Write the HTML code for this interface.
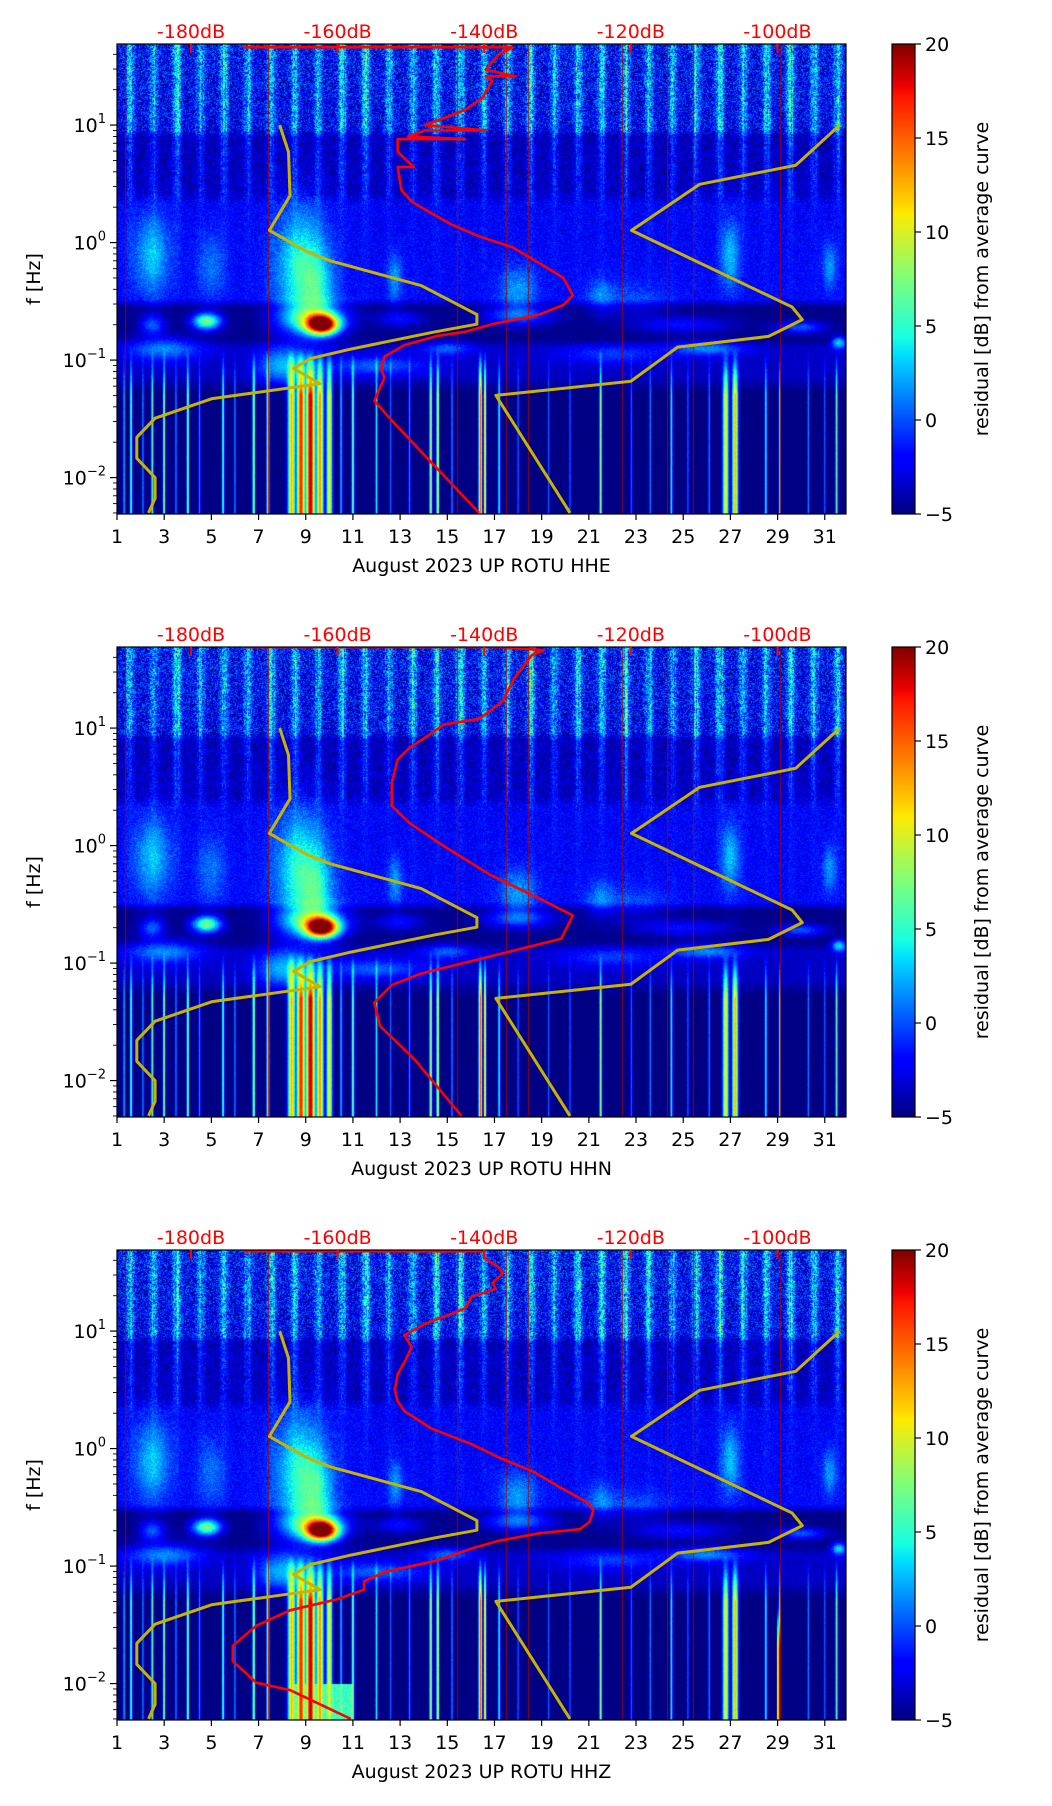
<!DOCTYPE html>
<html><head><meta charset="utf-8">
<style>
html,body{margin:0;padding:0;background:#fff;}
#root{position:relative;width:1052px;height:1806px;overflow:hidden;background:#fff;font-family:"DejaVu Sans","Liberation Sans",sans-serif;}
canvas{position:absolute;}
svg{position:absolute;left:0;top:0;}
</style></head>
<body>
<div id="root">
<svg id="svg" width="1052" height="1806" viewBox="0 0 1052 1806">
<defs>
<linearGradient id="jet" x1="0" y1="1" x2="0" y2="0">
<stop offset="0" stop-color="#000080"/><stop offset="0.11" stop-color="#0000ff"/>
<stop offset="0.125" stop-color="#0000ff"/><stop offset="0.34" stop-color="#00e0ff"/>
<stop offset="0.375" stop-color="#16ffe1"/><stop offset="0.5" stop-color="#7dff7a"/>
<stop offset="0.64" stop-color="#ffea00"/><stop offset="0.66" stop-color="#ffd400"/>
<stop offset="0.89" stop-color="#ff1300"/><stop offset="0.91" stop-color="#ed0000"/>
<stop offset="1" stop-color="#800000"/>
</linearGradient>
</defs>
</svg>
</div>
<script>
// ---------- axis/data arrays ----------
const panelNames = ["HHE","HHN","HHZ"];
const dayTicks = [1,3,5,7,9,11,13,15,17,19,21,23,25,27,29,31];
const dbTicks = [-180,-160,-140,-120,-100];
const dbTickLabels = ["-180dB","-160dB","-140dB","-120dB","-100dB"];
const cbTicks = [-5,0,5,10,15,20];
const freqDecades = [1,0,-1,-2];
const freqDecadeLabels = ["1","0","\u22121","\u22122"];

// yellow model curves (dB, Hz)
const yellowLowDb = [-167.9,-166.7,-166.5,-169.3,-164.2,-161.0,-148.6,-141.0,-141.0,-146.7,-158.2,-163.7,-166.0,-162.4,-177.1,-184.9,-187.4,-187.4,-184.9,-184.9,-185.8];
const yellowLowHz = [10,5.9,2.5,1.27,0.84,0.70,0.43,0.244,0.202,0.174,0.124,0.103,0.085,0.063,0.047,0.032,0.022,0.0146,0.010,0.00665,0.005];
const yellowHighDb = [-91.5,-97.5,-110.6,-119.9,-98.0,-96.6,-101.2,-113.6,-120.0,-138.4,-128.3];
const yellowHighHz = [10,4.55,3.13,1.27,0.283,0.221,0.159,0.129,0.066,0.050,0.005];

// red average curves per component (dB, Hz)
const redDbHHE = [-172.9,-136.1,-138.0,-139.8,-135.7,-139.8,-138.9,-140.3,-142.6,-145.3,-148.1,-139.6,-148.1,-150.4,-142.6,-151.8,-151.8,-149.6,-151.8,-151.3,-149.9,-147.2,-144.4,-140.7,-136.1,-132.5,-129.2,-127.9,-129.2,-132.5,-138.9,-142.6,-146.3,-150.9,-153.6,-154.1,-153.6,-155.0,-152.7,-140.7];
const redHzHHE  = [46,46,40,29.6,26,26,23.7,16.9,13.5,11.6,10,9,9,8.0,7.6,7.6,5.9,4.4,4.39,2.8,2.23,1.78,1.42,1.13,0.91,0.67,0.50,0.355,0.294,0.244,0.202,0.174,0.161,0.134,0.107,0.085,0.071,0.045,0.031,0.005];
const redDbHHN = [-172.6,-137.5,-131.9,-133.5,-135.9,-137.5,-140.7,-145.5,-147.8,-150.2,-151.8,-152.6,-152.6,-150.2,-145.5,-139.1,-132.7,-127.9,-129.5,-135.9,-142.3,-148.7,-152.6,-155.0,-154.2,-149.4,-143.1];
const redHzHHN  = [48.9,48.9,46,41.7,26.5,16.8,12.0,10.7,8.5,6.8,5.4,3.4,2.18,1.56,0.99,0.56,0.36,0.254,0.161,0.128,0.102,0.081,0.065,0.046,0.029,0.0149,0.005];
const redDbHHZ = [-172.9,-140.0,-140.0,-138.0,-137.5,-138.9,-138.4,-141.7,-142.6,-145.3,-148.1,-150.9,-149.9,-150.9,-151.8,-152.2,-151.8,-150.9,-147.2,-141.7,-138.0,-133.4,-129.7,-126.0,-125.1,-125.6,-126.9,-132.5,-138.0,-141.7,-146.3,-153.6,-156.4,-156.4,-160.1,-166.5,-171.1,-174.3,-174.3,-171.1,-166.5,-158.2];
const redHzHHZ  = [47.8,47.8,42,34.7,31,25.6,22.9,19.6,15.6,13.4,11.5,9.2,7.3,5.4,4.3,3.17,2.52,2.09,1.48,1.09,0.84,0.64,0.47,0.35,0.30,0.239,0.206,0.19,0.164,0.141,0.112,0.089,0.074,0.063,0.052,0.042,0.031,0.021,0.0155,0.0102,0.0088,0.005];
const redDb = [redDbHHE, redDbHHN, redDbHHZ];
const redHz = [redHzHHE, redHzHHN, redHzHHZ];

// spectrogram features: daily high-frequency streak amplitude per day (1..31)
const dailyStreakAmp = [6,5,7,5,6,5,7,6,5,6,7,5,6,6,7,5,6,7,5,6,6,7,6,5,6,7,6,6,7,6,6];
// blobs: day centre, day width, log10(f) centre, log10(f) width, amplitude (dB)
const blobDay  = [2.5,5.0,8.8,12.8,18.0,21.5,27.0,31.2,23.0, 4.8,9.7,2.5,13.0,18.0,25.0,30.0, 3.0,8.0,12.0,15.0,22.0,26.0,31.6, 9.3, 9.5];
const blobDayW = [0.8,0.6,1.1,0.3,0.8,0.6,0.4,0.3,1.5, 0.6,0.65,0.5,1.0,1.5,2.0,1.0, 1.5,1.0,2.0,1.0,2.0,1.5,0.3, 1.4, 0.7];
const blobLf   = [-0.1,-0.2,-0.2,-0.3,-0.4,-0.45,-0.1,-0.2,-0.5, -0.67,-0.7,-0.7,-0.65,-0.62,-0.7,-0.72, -0.9,-1.05,-1.05,-0.9,-0.95,-0.9,-0.85, -0.64, -0.4];
const blobLfW  = [0.35,0.3,0.5,0.2,0.2,0.15,0.3,0.2,0.15, 0.07,0.08,0.08,0.07,0.08,0.07,0.05, 0.1,0.15,0.08,0.06,0.08,0.06,0.05, 0.13, 0.3];
const blobAmp  = [5,3,7,4,4,3,5,4,2, 12,24,5,3,5,3,5, 5,6,4,4,3,5,8, 9, 4];
// low-frequency vertical streaks: day, width (days), amplitude
const lowStreakDay = [1.3,1.6,2.1,2.5,3.0,3.5,4.0,4.5,5.5,6.0,6.8,7.4,8.4,8.8,9.2,9.6,10.0,10.5,11.0,12.0,12.6,13.4,14.3,14.6,15.2,16.4,16.6,17.2,18.0,19.3,20.2,21.5,22.8,23.6,24.5,25.2,26.1,26.8,27.2,28.5,29.1,30.3,31.0,31.5];
const lowStreakW   = [0.04,0.05,0.04,0.05,0.05,0.04,0.05,0.04,0.05,0.04,0.06,0.06,0.15,0.18,0.2,0.15,0.12,0.05,0.06,0.05,0.04,0.04,0.06,0.06,0.04,0.07,0.05,0.05,0.04,0.04,0.04,0.05,0.04,0.04,0.05,0.04,0.04,0.12,0.12,0.05,0.04,0.04,0.04,0.05];
const lowStreakAmp = [8,12,7,12,13,7,14,7,12,7,14,16,18,22,24,19,16,8,12,10,6,7,14,16,7,21,19,10,6,6,6,14,6,7,10,6,7,16,18,10,12,7,6,12];
// thin dark-red vertical lines
const redLineDays = [1.33,7.4,15.4,17.5,18.4,22.4,24.3,25.4,29.1];

// ---------- geometry ----------
const PX0=117, PW=729, PH=470, TOPS=[44,647,1250];
const D0=1, D1=31.9, LF0=1.69, LF1=-2.31;
const xDay = d => PX0 + (d-D0)/(D1-D0)*PW;
const yF = (top,f) => top + (LF0-Math.log10(f))/(LF0-LF1)*PH;
const yLf = (top,lf) => top + (LF0-lf)/(LF0-LF1)*PH;
const xDb = db => 191 + (db+180)*7.33;
const CBX=892, CBW=23;
const yCb = (top,v) => top + PH - (v+5)/25*PH;

function jet(t){
  t=Math.max(0,Math.min(1,t));
  const seg=(pts)=>{for(let i=1;i<pts.length;i++){if(t<=pts[i][0]){const a=pts[i-1],b=pts[i];return a[1]+(b[1]-a[1])*(t-a[0])/(b[0]-a[0]);}}return pts[pts.length-1][1];};
  return [seg([[0,0],[0.35,0],[0.66,1],[0.89,1],[1,0.5]]),seg([[0,0],[0.125,0],[0.375,1],[0.64,1],[0.91,0],[1,0]]),seg([[0,0.5],[0.11,1],[0.34,1],[0.65,0],[1,0]])];
}
function hash(i,j){let h=(i*374761393+j*668265263)|0;h=(h^(h>>>13))*1274126177|0;h=h^(h>>>16);return ((h>>>0)%10000)/10000;}
function interp(kn,x){if(x>=kn[0][0])return kn[0][1];for(let i=1;i<kn.length;i++){if(x>=kn[i][0]){const a=kn[i-1],b=kn[i];return b[1]+(a[1]-b[1])*(x-b[0])/(a[0]-b[0]);}}return kn[kn.length-1][1];}
// rendering profiles (log f knots -> level/weights)
const baseKn=[[1.7,-2.0],[0.97,-2.4],[0.9,-3.8],[0.42,-3.6],[0.32,-2.2],[-0.48,-2.0],[-0.55,-4.9],[-0.82,-4.8],[-0.9,-3.4],[-1.15,-3.6],[-1.28,-5],[-2.4,-5]];
const streakKn=[[1.7,1.0],[0.95,0.95],[0.9,0.6],[0.42,0.45],[0.3,0.12],[-0.45,0.05],[-0.55,0],[-2.4,0]];
const noiseKn=[[1.7,3.8],[0.95,3.2],[0.9,2.0],[0.4,1.8],[0.3,1.4],[-0.5,1.2],[-0.55,0.6],[-0.85,0.8],[-1.2,0.6],[-1.3,0.4],[-2.4,0.4]];
const lowKn=[[1.7,0],[-0.9,0],[-1.15,0.6],[-1.3,1],[-2.4,1]];

const root=document.getElementById('root');
const svg=document.getElementById('svg');
const NS="http://www.w3.org/2000/svg";
function el(tag,attrs,parent){const e=document.createElementNS(NS,tag);for(const k in attrs)e.setAttribute(k,attrs[k]);(parent||svg).appendChild(e);return e;}

function drawHeat(p,top){
  const cv=document.createElement('canvas');
  cv.width=PW;cv.height=PH;cv.style.left=PX0+'px';cv.style.top=top+'px';
  
  
  root.insertBefore(cv,svg);
  const ctx=cv.getContext('2d');const img=ctx.createImageData(PW,PH);const dat=img.data;
  const days=new Float32Array(PW), streak=new Float32Array(PW), low=new Float32Array(PW);
  for(let i=0;i<PW;i++){
    const d=D0+(i+0.5)/PW*(D1-D0);days[i]=d;
    let s=0;for(let k=0;k<dailyStreakAmp.length;k++){const c=k+1.55;const z=(d-c)/0.17;s+=dailyStreakAmp[k]*Math.exp(-z*z);}
    streak[i]=s*(0.6+0.7*hash(i,777+p));
    let l=0;for(let k=0;k<lowStreakDay.length;k++){const z=(d-lowStreakDay[k])/lowStreakW[k];l=Math.max(l,lowStreakAmp[k]*Math.exp(-z*z));}
    low[i]=l;
  }
  const nb=blobDay.length;
  const bx=[],by=[];
  for(let b=0;b<nb;b++){
    const ax=new Float32Array(PW),ay=new Float32Array(PH);
    for(let i=0;i<PW;i++){const z=(days[i]-blobDay[b])/blobDayW[b];ax[i]=blobAmp[b]*Math.exp(-z*z);}
    for(let j=0;j<PH;j++){const lf=LF0-(j+0.5)/PH*(LF0-LF1);const z=(lf-blobLf[b])/blobLfW[b];ay[j]=Math.exp(-z*z);}
    bx.push(ax);by.push(ay);
  }
  for(let j=0;j<PH;j++){
    const lf=LF0-(j+0.5)/PH*(LF0-LF1);
    const base=interp(baseKn,lf), sw=interp(streakKn,lf), nz=interp(noiseKn,lf), lw=interp(lowKn,lf);
    for(let i=0;i<PW;i++){
      let v=base+streak[i]*sw*(0.7+0.6*hash(i>>1,j>>1))+(hash(i,j+p*1000)-0.5)*nz*2+low[i]*lw;
      for(let b=0;b<nb;b++){const a=bx[b][i];if(a>0.01)v+=a*by[b][j];}
      if(p===2 && lf<-2 && days[i]>8.5 && days[i]<11) v=Math.max(v,4+hash(i,j)*3+low[i]*0.2);
      if(p===2 && lf<-1.3 && Math.abs(days[i]-29.05)<0.09) v+=16*Math.min(1,(-1.3-lf)/0.4);
      const c=jet((v+5)/25);const o=(j*PW+i)*4;
      dat[o]=c[0]*255;dat[o+1]=c[1]*255;dat[o+2]=c[2]*255;dat[o+3]=255;
    }
  }
  ctx.putImageData(img,0,0);
  ctx.strokeStyle='rgba(170,0,0,0.85)';ctx.lineWidth=1;
  for(const d of redLineDays){const x=Math.round(xDay(d)-PX0)+0.5;ctx.beginPath();ctx.moveTo(x,0);ctx.lineTo(x,PH);ctx.stroke();}
}

function poly(dbs,hzs,top,color,w,name){
  let pts=dbs.map((db,k)=>xDb(db).toFixed(1)+','+yF(top,hzs[k]).toFixed(1)).join(' ');
  const e=el('polyline',{points:pts,fill:'none',stroke:color,'stroke-width':w,'stroke-linejoin':'round','clip-path':'url(#clip'+top+')'});
  
  
}

for(let p=0;p<3;p++){
  const top=TOPS[p];
  drawHeat(p,top);
  const cp=el('clipPath',{id:'clip'+top});el('rect',{x:PX0,y:top,width:PW,height:PH},cp);
  const g=el('g',{});
  
  
  poly(yellowLowDb,yellowLowHz,top,'#c8b400',3,'model-curve-low');
  poly(yellowHighDb,yellowHighHz,top,'#c8b400',3,'model-curve-high');
  poly(redDb[p],redHz[p],top,'#ff0000',2.6,'average-curve');
  const fr=el('rect',{x:PX0,y:top,width:PW,height:PH,fill:'none',stroke:'#000','stroke-width':1.2});
  
  
  dayTicks.forEach(d=>{const x=xDay(d);el('line',{x1:x,y1:top+PH,x2:x,y2:top+PH+6,stroke:'#000','stroke-width':1.2});
    const t=el('text',{x:x,y:top+PH+29,'font-size':19,'text-anchor':'middle',fill:'#000'});t.textContent=d;
    
    });
  const xl=el('text',{x:(PX0+PX0+PW)/2,y:top+PH+58,'font-size':19,'text-anchor':'middle',fill:'#000'});
  xl.textContent='August 2023 UP ROTU  '+panelNames[p];
  
  
  freqDecades.forEach((e,k)=>{const y=yLf(top,e);el('line',{x1:PX0-7,y1:y,x2:PX0,y2:y,stroke:'#000','stroke-width':1.2});
    const t=el('text',{x:PX0-11,y:y+7,'font-size':19,'text-anchor':'end',fill:'#000'});
    const a=el('tspan',{},t);a.textContent='10';const b=el('tspan',{dy:-9,'font-size':13},t);b.textContent=freqDecadeLabels[k];
    
    });
  for(let e=-3;e<=1;e++)for(let m=2;m<=9;m++){const lf=e+Math.log10(m);if(lf<LF1||lf>LF0)continue;const y=yLf(top,lf);el('line',{x1:PX0-4,y1:y,x2:PX0,y2:y,stroke:'#000','stroke-width':0.9});}
  const yl=el('text',{x:0,y:0,'font-size':19,'text-anchor':'middle',fill:'#000',transform:'translate(40,'+(top+PH/2)+') rotate(-90)'});
  yl.textContent='f [Hz]';
  
  
  dbTicks.forEach((db,k)=>{const x=xDb(db);el('line',{x1:x,y1:top,x2:x,y2:top+9,stroke:'#ff0000','stroke-width':2});
    const t=el('text',{x:x,y:top-6,'font-size':19,'text-anchor':'middle',fill:'#ff0000'});t.textContent=dbTickLabels[k];
    
    });
  const cb=el('rect',{x:CBX,y:top,width:CBW,height:PH,fill:'url(#jet)',stroke:'#000','stroke-width':1.2});
  
  
  cbTicks.forEach(v=>{const y=yCb(top,v);el('line',{x1:CBX+CBW,y1:y,x2:CBX+CBW+6,y2:y,stroke:'#000','stroke-width':1.2});
    const t=el('text',{x:CBX+CBW+10,y:y+7,'font-size':19,fill:'#000'});t.textContent=v<0?'\u2212'+(-v):String(v);
    
    });
  const cl=el('text',{x:0,y:0,'font-size':19,'text-anchor':'middle',fill:'#000',transform:'translate(988,'+(top+PH/2)+') rotate(-90)'});
  cl.textContent='residual [dB] from average curve';
  
  
}
</script>
</body></html>
